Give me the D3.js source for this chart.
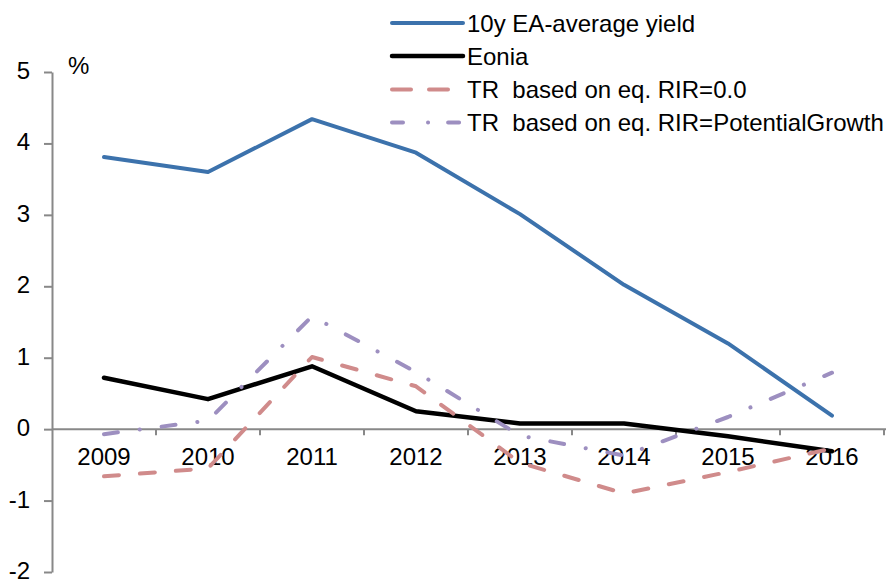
<!DOCTYPE html>
<html>
<head>
<meta charset="utf-8">
<script src="https://cdn.jsdelivr.net/npm/d3@7"></script>
<style>
  body { margin: 0; background: #fff; }
  svg text { font-family: "Liberation Sans", Arial, sans-serif; font-size: 24px; fill: #000; }
</style>
</head>
<body>
<div id="chart"></div>
<script>
// datos
const years = ['2009', '2010', '2011', '2012', '2013', '2014', '2015', '2016'];
const yield10y = [3.81, 3.60, 4.34, 3.87, 3.01, 2.02, 1.20, 0.19];
const eonia = [0.72, 0.42, 0.88, 0.25, 0.08, 0.08, -0.10, -0.31];
const trZero = [-0.66, -0.55, 1.01, 0.60, -0.47, -0.90, -0.60, -0.27];
const trGrowth = [-0.07, 0.12, 1.58, 0.80, -0.09, -0.37, 0.17, 0.79];
const yTicks = [5, 4, 3, 2, 1, 0, -1, -2];
const seriesNames = ['10y EA-average yield', 'Eonia', 'TR  based on eq. RIR=0.0', 'TR  based on eq. RIR=PotentialGrowth'];

const width = 888, height = 579;
const margin = { top: 72, right: 4, bottom: 7, left: 52 };

const svg = d3.select('#chart')
  .append('svg')
  .attr('width', width)
  .attr('height', height);

const x = d3.scaleBand()
  .domain(years)
  .range([margin.left, width - margin.right])
  .padding(0);

const y = d3.scaleLinear()
  .domain([-2, 5])
  .range([height - margin.bottom, margin.top]);

const axisColor = '#888';

// eje Y
const yAxis = svg.append('g')
  .attr('transform', `translate(${margin.left},0)`)
  .call(d3.axisLeft(y).tickValues(yTicks).tickFormat(d => String(d))
    .tickSize(8).tickPadding(14).tickSizeOuter(0));
yAxis.select('.domain').attr('stroke', axisColor).attr('stroke-width', 2);
yAxis.selectAll('line').attr('stroke', axisColor).attr('stroke-width', 2);
yAxis.selectAll('text').style('font-size', '24px').attr('fill', '#000').attr('dy', '0.27em');

svg.append('text')
  .attr('x', 68)
  .attr('y', 74)
  .text('%');

// eje X en cero
const xAxis = svg.append('g')
  .attr('transform', `translate(0,${y(0)})`)
  .call(d3.axisBottom(x).tickSize(0).tickPadding(19).tickSizeOuter(0));
xAxis.select('.domain').attr('stroke', axisColor).attr('stroke-width', 2)
  .attr('d', `M${margin.left},0H${width - 2}`);
xAxis.selectAll('text').style('font-size', '24px').attr('fill', '#000');

// marcas entre categorias
svg.append('g')
  .selectAll('line')
  .data(years)
  .join('line')
  .attr('x1', d => x(d) + x.bandwidth())
  .attr('x2', d => x(d) + x.bandwidth())
  .attr('y1', y(0))
  .attr('y2', y(0) + 6)
  .attr('stroke', axisColor)
  .attr('stroke-width', 2);

const series = [
  { name: seriesNames[0], values: yield10y, color: '#3c72ac', width: 4, dash: null, legDash: null },
  { name: seriesNames[1], values: eonia, color: '#000000', width: 4.5, dash: null, legDash: null },
  { name: seriesNames[2], values: trZero, color: '#d08b8b', width: 4, dash: '15,21', legDash: '19,18' },
  { name: seriesNames[3], values: trGrowth, color: '#9d8fc0', width: 4, dash: '14,22,0.1,22', legDash: '11,25,0.1,20' }
];

const line = d3.line()
  .x((d, i) => x(years[i]) + x.bandwidth() / 2)
  .y(d => y(d));

series.forEach(s => {
  svg.append('path')
    .datum(s.values)
    .attr('fill', 'none')
    .attr('stroke', s.color)
    .attr('stroke-width', s.width)
    .attr('stroke-linejoin', 'round')
    .attr('stroke-linecap', 'round')
    .attr('stroke-dasharray', s.dash)
    .attr('d', line);
});

// leyenda
const legend = svg.append('g');
const legendY = [23, 56, 89.5, 122.5];
series.forEach((s, i) => {
  legend.append('line')
    .attr('x1', 392)
    .attr('x2', 463)
    .attr('y1', legendY[i])
    .attr('y2', legendY[i])
    .attr('stroke', s.color)
    .attr('stroke-width', s.width)
    .attr('stroke-linecap', 'round')
    .attr('stroke-dasharray', s.legDash);
  legend.append('text')
    .attr('x', 467)
    .attr('y', legendY[i] + 8.5)
    .style('white-space', 'pre')
    .text(s.name);
});
</script>
</body>
</html>
